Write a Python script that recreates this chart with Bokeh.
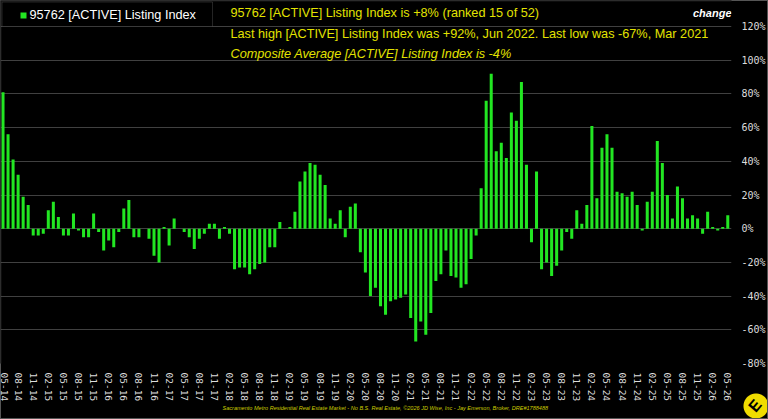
import math
from bokeh.plotting import figure
from bokeh.models import Range1d, FixedTicker, PrintfTickFormatter, Label, BoxAnnotation, Title, InlineStyleSheet
from bokeh.embed import file_html
from bokeh.resources import INLINE

# monthly index values (%), 05-2014 .. 05-2026
values = [81, 56, 41, 32, 19, 14, -4, -4, -3, 11, 16, 7, -4, -4, 9, -1, -5, -5, 9, -2,
          -13, -7, -11, -2, 12, 17, -5, -5, 0, -6, -16, -20, 1, -10, 6, 0, -2, -5, -12, -6,
          -3, 3, 3, -6, 1, -3, -24, -23, -23, -27, -24, -21, -20, -11, -11, 4, 0, 1, 10, 28,
          34, 39, 38, 32, 26, 6, 3, 11, -5, 13, 15, -14, -26, -40, -35, -46, -51, -43, -42, -41,
          -39, -53, -67, -55, -63, -50, -31, -27, -13, -28, -29, -35, -33, -18, -4, 24, 76, 92, 46, 51,
          42, 69, 64, 87, 38, -8, 34, -24, -20, -28, -22, -13, -2, -6, 11, 3, 14, 61, 18, 48,
          56, 48, 22, 21, 19, 22, 14, -1, 16, 22, 52, 39, 20, 6, 25, 18, 6, 8, 6, -3,
          10, 1, -1, 1, 8]
months = list(range(len(values)))

tick_labels = ["05-14", "08-14", "11-14", "02-15", "05-15", "08-15", "11-15", "02-16", "05-16",
               "08-16", "11-16", "02-17", "05-17", "08-17", "11-17", "02-18", "05-18", "08-18",
               "11-18", "02-19", "05-19", "08-19", "11-19", "02-20", "05-20", "08-20", "11-20",
               "02-21", "05-21", "08-21", "11-21", "02-22", "05-22", "08-22", "11-22", "02-23",
               "05-23", "08-23", "11-23", "02-24", "05-24", "08-24", "11-24", "02-25", "05-25",
               "08-25", "11-25", "02-26", "05-26"]
tick_pos = list(range(0, len(values), 3))
y_ticks = [-80, -60, -40, -20, 0, 20, 40, 60, 80, 100, 120]

series_name = "95762 [ACTIVE] Listing Index"
line1 = "95762 [ACTIVE] Listing Index is +8% (ranked 15 of 52)"
line2 = "Last high [ACTIVE] Listing Index was +92%, Jun 2022. Last low was -67%, Mar 2021"
line3 = "Composite Average [ACTIVE] Listing Index is -4%"
footer = ("Sacramento Metro Residential Real Estate Market - No B.S. Real Estate, \u00a92026 JD Wise, Inc"
          " - Jay Emerson, Broker, DRE#1788488")

GREEN = "#22e622"
YELLOW = "#e3e300"
HEAD_FS = "12.7px"

FB = 363  # frame bottom in canvas px; frame top is canvas y=0
y_top = 120 + 26 * 200 / 337  # leave 26px of header above the 120% line

p = figure(width=768, height=419, output_backend="svg", toolbar_location=None,
           x_range=Range1d(-0.5, 144.74), y_range=Range1d(-80, y_top),
           y_axis_location="right",
           min_border_left=0, min_border_right=36, min_border_top=0, min_border_bottom=56,
           background_fill_color="black", border_fill_color="black", border_fill_alpha=0.0,
           outline_line_color=None)

# page background, frame edge and corner logo disc live in the host element's CSS
p.styles = {
    "background": ("radial-gradient(circle at 756px 406px, #f0dc00 0px, #f0dc00 12px, "
                   "rgba(0,0,0,0) 13px), #000000"),
    "box-shadow": "inset 0 0 0 1px #555555",
}
p.stylesheets = [InlineStyleSheet(css=(
    ":host::after { content: 'E'; position: absolute; left: 750px; top: 397px; "
    "font: bold 16px 'Liberation Sans', sans-serif; color: #000000; "
    "transform: rotate(-50deg); pointer-events: none; }"))]

p.vbar(x=months, top=values, width=0.6, fill_color=GREEN, line_color=None)

# axes
p.xaxis.ticker = FixedTicker(ticks=tick_pos)
p.xaxis.major_label_overrides = {t: l for t, l in zip(tick_pos, tick_labels)}
p.xaxis.major_label_orientation = -math.pi / 2
p.xaxis.major_label_text_font = "DejaVu Sans Mono"
p.xaxis.major_label_text_font_size = "9.5px"
p.xaxis.major_label_text_color = "#dddddd"
p.xaxis.major_label_standoff = 9
p.xaxis.axis_line_color = None
p.xaxis.major_tick_line_color = None
p.xaxis.minor_tick_line_color = None
p.xaxis.major_tick_out = 0
p.xaxis.major_tick_in = 0

p.yaxis.ticker = FixedTicker(ticks=y_ticks)
p.yaxis.formatter = PrintfTickFormatter(format="%d%%")
p.yaxis.major_label_text_font = "DejaVu Sans Mono"
p.yaxis.major_label_text_font_size = "10px"
p.yaxis.major_label_text_color = "#dddddd"
p.yaxis.major_label_standoff = 10
p.yaxis.axis_line_color = None
p.yaxis.major_tick_line_color = None
p.yaxis.minor_tick_line_color = None
p.yaxis.major_tick_out = 0
p.yaxis.major_tick_in = 0

p.xgrid.grid_line_color = None
p.ygrid.ticker = FixedTicker(ticks=y_ticks)
p.ygrid.grid_line_color = "#404040"
p.ygrid.grid_line_width = 1

# legend box
p.add_layout(BoxAnnotation(left=1.5, right=212, top=FB - 1.5, bottom=FB - 26,
                           left_units="screen", right_units="screen",
                           top_units="screen", bottom_units="screen",
                           fill_color="black", fill_alpha=1.0,
                           line_color="#777777", line_width=1))
p.add_layout(BoxAnnotation(left=20, right=26, top=FB - 12, bottom=FB - 18,
                           left_units="screen", right_units="screen",
                           top_units="screen", bottom_units="screen",
                           fill_color=GREEN, fill_alpha=1.0, line_color=None))
p.add_layout(Label(x=29, y=FB - 14, x_units="screen", y_units="screen", text=series_name,
                   text_font="Liberation Sans", text_font_size=HEAD_FS, text_color="white",
                   text_baseline="middle", text_align="left"))

# header texts
p.add_layout(Label(x=230, y=FB - 12.5, x_units="screen", y_units="screen", text=line1,
                   text_font="Liberation Sans", text_font_size=HEAD_FS, text_color=YELLOW,
                   text_baseline="middle"))
p.add_layout(Label(x=230, y=FB - 33, x_units="screen", y_units="screen", text=line2,
                   text_font="Liberation Sans", text_font_size=HEAD_FS, text_color=YELLOW,
                   text_baseline="middle"))
p.add_layout(Label(x=230, y=FB - 53, x_units="screen", y_units="screen", text=line3,
                   text_font="Liberation Sans", text_font_size=HEAD_FS, text_color=YELLOW,
                   text_font_style="italic", text_baseline="middle"))
p.add_layout(Label(x=731, y=FB - 12.5, x_units="screen", y_units="screen", text="change",
                   text_font="Liberation Sans", text_font_size="11px", text_color="white",
                   text_font_style="bold italic", text_baseline="middle", text_align="right"))

# canvas border (left/top edges fall inside the frame)
p.add_layout(BoxAnnotation(left=0.5, right=767.5, top=FB - 0.5, bottom=FB - 418.5,
                           left_units="screen", right_units="screen",
                           top_units="screen", bottom_units="screen",
                           fill_alpha=0, line_color="#555555", line_width=1))

# footer credit below the axis
p.add_layout(Title(text=footer, align="left", offset=222, standoff=0, vertical_align="top",
                   text_font="Liberation Sans", text_font_size="5.55px", text_color="#cccc00",
                   text_font_style="italic"), "below")

open("out.html", "w").write(file_html(p, INLINE))
